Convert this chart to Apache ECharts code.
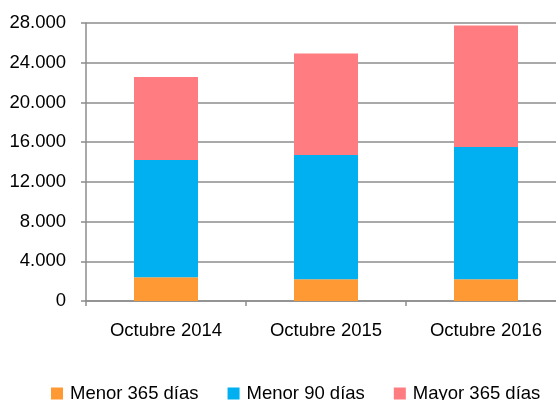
<!DOCTYPE html>
<html><head><meta charset="utf-8">
<script src="https://cdn.jsdelivr.net/npm/echarts@6/dist/echarts.min.js"></script>
<style>html,body{margin:0;padding:0;background:#fff}#c{width:556px;height:400px}</style>
</head><body><div id="c"></div>
<script>
var categories = ['Octubre 2014', 'Octubre 2015', 'Octubre 2016'];
var menor365 = [2400, 2200, 2200];
var menor90 = [11800, 12500, 13300];
var mayor365 = [8350, 10230, 12250];
var seriesNames = ['Menor 365 días', 'Menor 90 días', 'Mayor 365 días'];
var colors = ['#FF9933', '#00B0F0', '#FF7C80'];

var chart = echarts.init(document.getElementById('c'));
var font = 'Liberation Sans';
function fmt(v){ return v === 0 ? '0' : (v/1000).toFixed(0) + '.000'; }
chart.setOption({
  animation: false,
  color: colors,
  grid: { left: 86, top: 23, width: 480, height: 278, containLabel: false, outerBoundsMode: 'none' },
  legend: {
    top: 379, left: 46, itemWidth: 12, itemHeight: 12, itemGap: 29,
    icon: 'rect',
    textStyle: { fontFamily: font, fontSize: 18.5, color: '#000', padding: [0,0,0,2] },
    data: seriesNames
  },
  xAxis: {
    type: 'category', data: categories,
    axisLine: { lineStyle: { color: '#8c8c8c', width: 1.5 } },
    axisTick: { show: true, length: 5, lineStyle: { color: '#8c8c8c', width: 1.5 } },
    axisLabel: { fontFamily: font, fontSize: 18.5, color: '#000', margin: 20 }
  },
  yAxis: {
    type: 'value', min: 0, max: 28000, interval: 4000,
    axisLine: { show: true, lineStyle: { color: '#8c8c8c', width: 1.5 } },
    axisTick: { show: true, length: 5, lineStyle: { color: '#8c8c8c', width: 1.5 } },
    splitLine: { lineStyle: { color: '#8c8c8c', width: 1.5 } },
    axisLabel: { fontFamily: font, fontSize: 18.5, color: '#000', margin: 20, formatter: fmt }
  },
  series: [
    { name: seriesNames[0], type: 'bar', stack: 's', data: menor365, barWidth: 64 },
    { name: seriesNames[1], type: 'bar', stack: 's', data: menor90, barWidth: 64 },
    { name: seriesNames[2], type: 'bar', stack: 's', data: mayor365, barWidth: 64 }
  ]
});
</script></body></html>
